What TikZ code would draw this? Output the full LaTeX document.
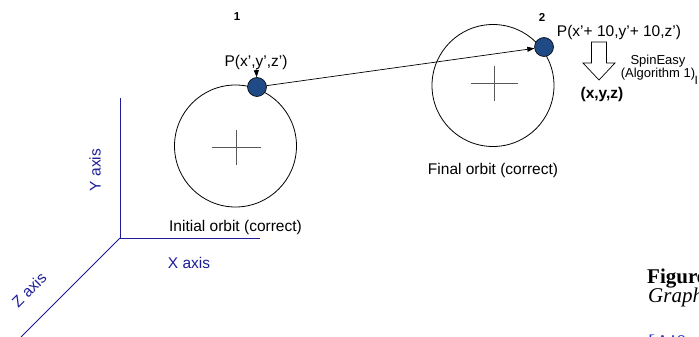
\documentclass[tikz,border=0pt]{standalone}
\usepackage{fontspec}
\setmainfont{Liberation Sans}
\newfontfamily\capfont{Liberation Serif}
\usepackage{xcolor}
\definecolor{axisBlue}{HTML}{1C1C96}
\definecolor{pointBlue}{HTML}{1F4A85}
\definecolor{citeBlue}{HTML}{2A3FD0}
\usetikzlibrary{arrows.meta, positioning, calc}

\begin{document}
\begin{tikzpicture}[
    x=1pt, y=-1pt,
    font=\fontsize{15.5}{18}\selectfont,
    orbit/.style={circle, draw, line width=0.8pt, minimum size=122pt, inner sep=0pt},
    point/.style={circle, draw=black, fill=pointBlue, line width=0.6pt, minimum size=19pt, inner sep=0pt},
    lbl/.style={inner sep=0pt},
    num/.style={inner sep=0pt, font=\fontsize{11.5}{13}\selectfont\bfseries},
    axis/.style={draw=axisBlue, line width=0.8pt},
    axislbl/.style={inner sep=0pt, text=axisBlue},
    arrow/.style={-{Triangle[length=7pt, width=5pt]}, line width=0.7pt},
    cross/.style={draw=black!65, line width=0.8pt},
    hollow/.style={draw, line width=0.7pt, fill=white},
    capt/.style={inner sep=0pt, anchor=base west}
]
    \path[use as bounding box, clip] (0,0) rectangle (699,337);

    % Axes
    \coordinate (origin) at (120,238);
    \coordinate (ytip) at (120,98);
    \coordinate (xtip) at (260,238);
    \coordinate (ztip) at (21,337);
    \draw[axis] (ytip) -- (origin) -- (xtip);
    \draw[axis] (origin) -- (ztip);
    \node[axislbl, rotate=90] (ylbl) at (95,170) {Y axis};
    \node[axislbl] (xlbl) at (189,263) {X axis};
    \node[axislbl, rotate=45] (zlbl) at (29,290) {Z axis};

    % Orbits
    \node[orbit] (orbit1) at (235.5,146) {};
    \node[orbit] (orbit2) at (493,85.5) {};
    \draw[cross] ($(orbit1.center)+(-23.5,1.5)$) -- ++(49,0);
    \draw[cross] ($(orbit1.center)+(1,-16)$) -- ++(0,35);
    \draw[cross] ($(orbit2.center)+(-22.5,-2.5)$) -- ++(47,0);
    \draw[cross] ($(orbit2.center)+(1,-19.5)$) -- ++(0,35);
    \node[lbl, below=13pt of orbit1] (initlbl) {Initial orbit (correct)};
    \node[lbl, below=16pt of orbit2] (finallbl) {Final orbit (correct)};

    % Points
    \node[point] (p1) at (257,87) {};
    \node[point] (p2) at (544,47) {};
    \node[num] (n1) at (237,17) {1};
    \node[num] (n2) at (542,17) {2};
    \node[lbl] (plbl1) at (256,62) {P(x',y',z')};
    \node[lbl] (plbl2) at (619,32) {P(x'+ 10,y'+ 10,z')};

    % Connections
    \draw[arrow] (p1) -- (p2);
    \draw[arrow] (plbl1) -- (p1);

    % SpinEasy step
    \coordinate (conv) at (599,42);
    \draw[hollow] (conv) ++(-7.5,0) -- ++(15,0) -- ++(0,21) -- ++(8.5,0)
        -- ++(-16,17) -- ++(-16,-17) -- ++(8.5,0) -- cycle;
    \node[lbl, font=\fontsize{13}{10}\selectfont, align=center] (spin) at (658,67.6) {SpinEasy\\(Algorithm 1)};
    \node[lbl, font=\fontsize{15.5}{18}\selectfont\bfseries] (xyz) at (602,94) {(x,y,z)};
    \node[lbl, font=\fontsize{12}{14}\selectfont, anchor=base west] (edge) at (694.5,84.5) {I};

    % Caption
    \node[capt, font=\capfont\fontsize{21}{24}\selectfont\bfseries] (figlbl) at (647,283) {Figure};
    \node[capt, font=\capfont\fontsize{21}{24}\selectfont\itshape] (graphlbl) at (648,302) {Graph};
    \node[capt, font=\capfont\fontsize{21}{24}\selectfont, text=citeBlue] (citelbl) at (648,349) {[Ai0};
\end{tikzpicture}
\end{document}
